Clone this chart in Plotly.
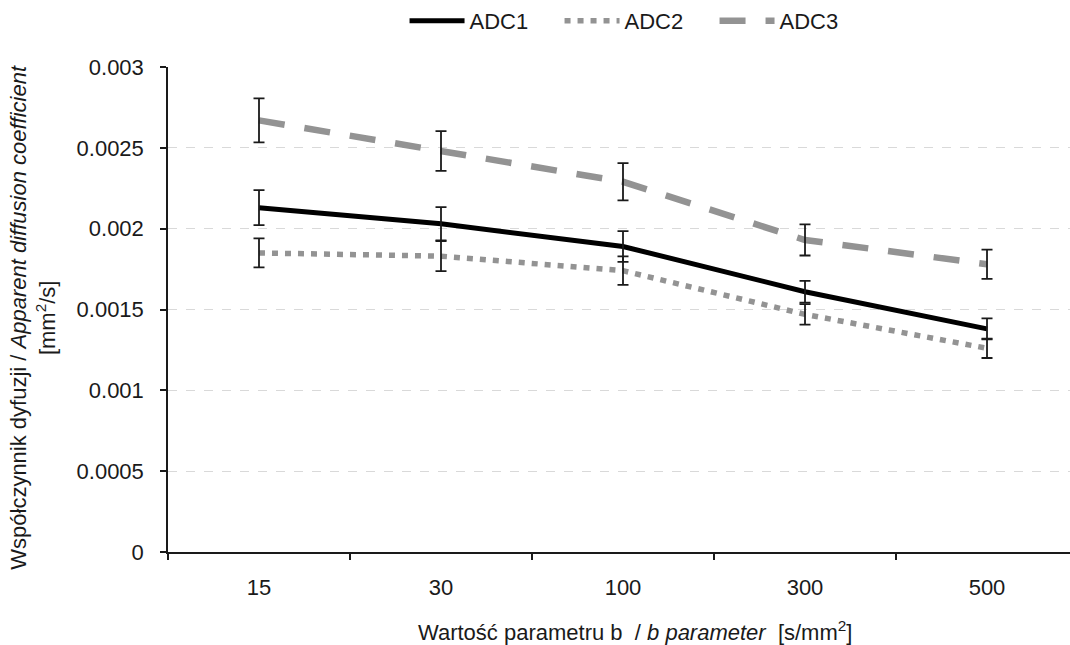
import plotly.graph_objects as go

# b-value categories and mean ADC values [mm^2/s] with their standard deviations
b_values = ["15", "30", "100", "300", "500"]
adc1 = [0.00213, 0.00203, 0.00189, 0.00161, 0.00138]
adc2 = [0.00185, 0.00183, 0.00174, 0.00147, 0.00126]
adc3 = [0.00267, 0.00248, 0.00229, 0.00193, 0.00178]
err1 = [0.000108, 0.000103, 0.000095, 0.000067, 0.000065]
err2 = [0.000090, 0.000093, 0.000088, 0.000063, 0.000060]
err3 = [0.000136, 0.000123, 0.000115, 0.000096, 0.000090]
y_ticks = [0, 0.0005, 0.001, 0.0015, 0.002, 0.0025, 0.003]
y_tick_text = ["0", "0.0005", "0.001", "0.0015", "0.002", "0.0025", "0.003"]

FONT = "Liberation Sans, Arial, sans-serif"
GRAY = "#939393"
FS = 22

fig = go.Figure()

series = [
    ("ADC1", adc1, err1, dict(color="black", width=5)),
    ("ADC2", adc2, err2, dict(color=GRAY, width=5.5, dash="6px,7px")),
    ("ADC3", adc3, err3, dict(color=GRAY, width=6.5, dash="26px,20px")),
]

for name, vals, _, line in series:
    fig.add_trace(go.Scatter(x=b_values, y=vals, name=name, mode="lines", line=line))

# error bars drawn on top of all lines
for name, vals, err, _ in series:
    fig.add_trace(go.Scatter(
        x=b_values, y=vals, mode="markers", showlegend=False, hoverinfo="skip",
        marker=dict(size=1, opacity=0),
        error_y=dict(type="data", array=err, visible=True, color="#1a1a1a",
                     thickness=1.8, width=5.5),
    ))

fig.update_layout(
    width=1070, height=645,
    margin=dict(l=168, r=0, t=66, b=93),
    paper_bgcolor="white", plot_bgcolor="white",
    font=dict(family=FONT, size=FS, color="#1a1a1a"),
    showlegend=True,
    legend=dict(orientation="h", x=0.52, xanchor="center", y=1.095, yanchor="middle",
                font=dict(size=FS), itemwidth=55, traceorder="normal",
                entrywidth=85, entrywidthmode="pixels"),
    xaxis=dict(
        type="category", range=[-0.5, 4.456], tickson="boundaries",
        ticks="outside", ticklen=6, tickcolor="#1a1a1a", tickwidth=1.5,
        showline=True, linecolor="#1a1a1a", linewidth=1.5,
        showgrid=False, zeroline=False, ticklabelstandoff=15,
    ),
    yaxis=dict(
        range=[0, 0.003], tickvals=y_ticks, ticktext=y_tick_text,
        ticks="outside", ticklen=6, tickcolor="#1a1a1a", tickwidth=1.5,
        showline=True, linecolor="#1a1a1a", linewidth=1.5,
        showgrid=True, gridcolor="#d9d9d9", gridwidth=1, griddash="dash",
        zeroline=False, ticklabelstandoff=12,
    ),
    annotations=[
        dict(text="Współczynnik dyfuzji / <i>Apparent diffusion coefficient</i><br>[mm<sup>2</sup>/s]",
             xref="paper", yref="paper", x=-0.1497, y=0.485, xanchor="center", yanchor="middle",
             textangle=-90, showarrow=False, font=dict(size=FS)),
        dict(text="Wartość parametru b  / <i>b parameter</i>  [s/mm<sup>2</sup>]",
             xref="paper", yref="paper", x=0.518, y=-0.162, xanchor="center", yanchor="middle",
             showarrow=False, font=dict(size=FS)),
    ],
)

fig.write_html("out.html")
